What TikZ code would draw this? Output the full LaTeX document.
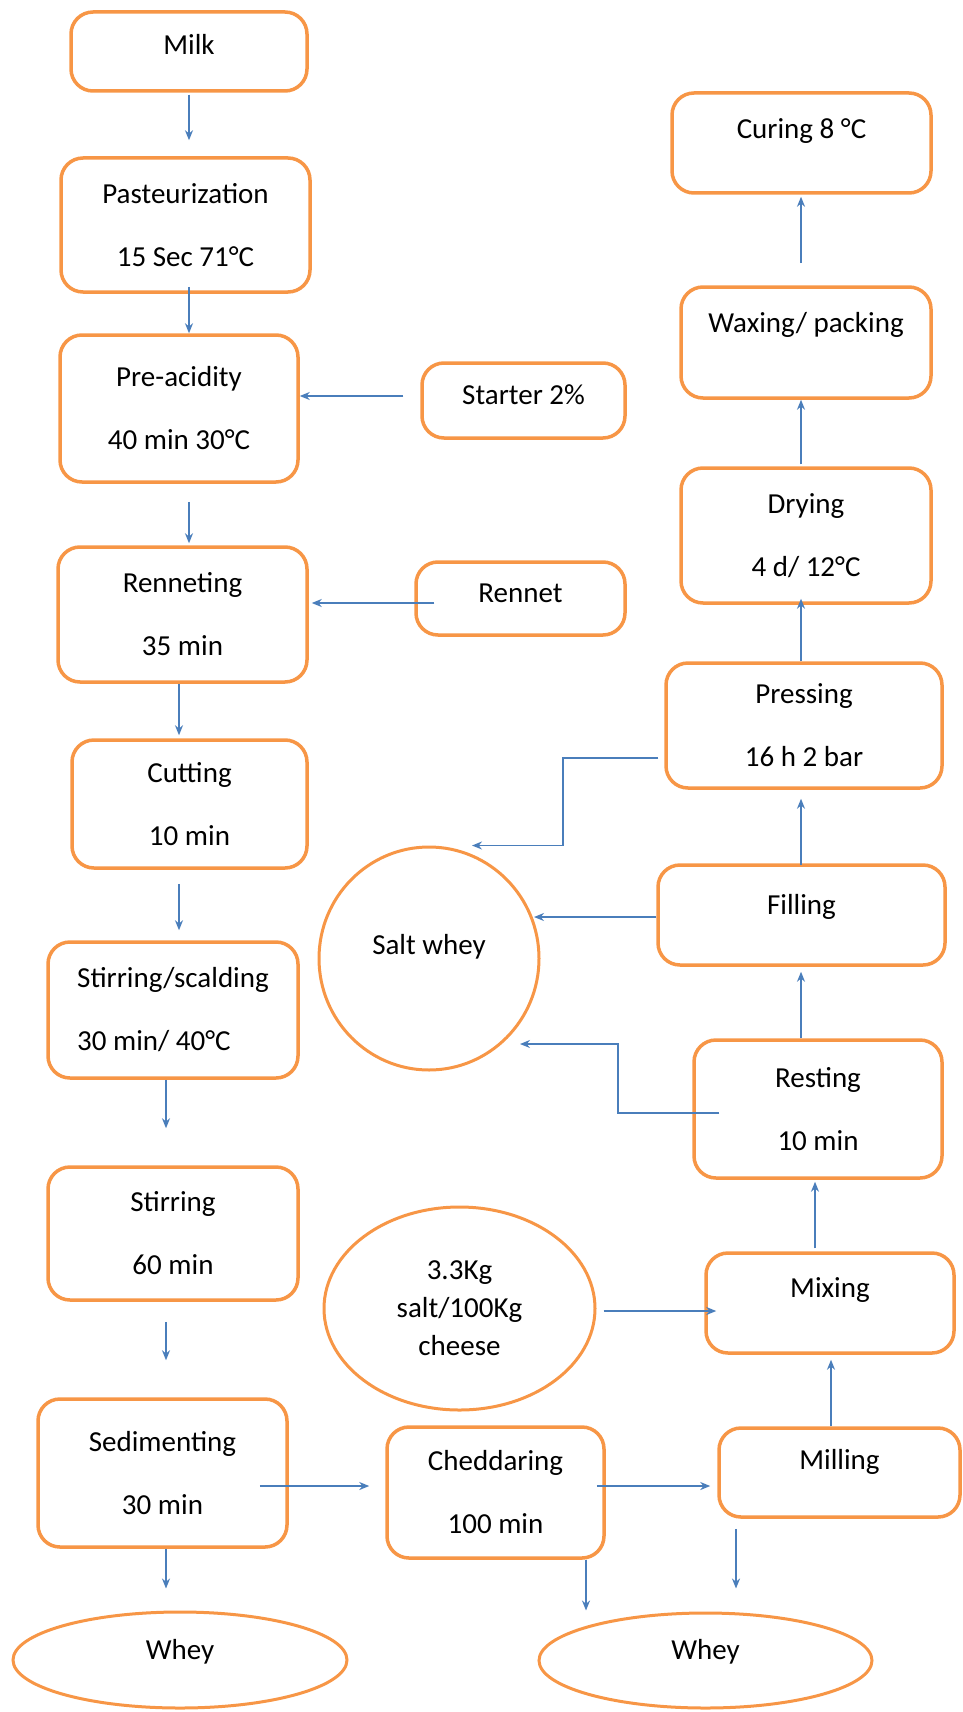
\documentclass[tikz,border=0pt]{standalone}
\usepackage{fontspec}
\setmainfont{Carlito}
\usetikzlibrary{shapes.geometric,arrows.meta,calc}
\definecolor{boxorange}{HTML}{F79646}
\definecolor{flowblue}{HTML}{4A7EBB}

\begin{document}
\begin{tikzpicture}[x=1pt,y=-1pt,
    every node/.style={font=\fontsize{29}{35}\selectfont},
    stage/.style={draw=boxorange,line width=3.5pt,rounded corners=22pt,fill=white,align=center,inner sep=0pt},
    pool/.style={draw=boxorange,line width=3pt,ellipse,fill=white,align=center,inner sep=0pt},
    lift/.style={text height=20pt,text depth=#1},
    flow/.style={draw=flowblue,line width=1.6pt,-{Stealth[length=10pt,width=8pt]}},
    wideflow/.style={flow,line width=2.6pt}]
\useasboundingbox (0,0) rectangle (962,1712);

\node[stage,minimum width=236pt,minimum height=79pt,lift=14pt] (milk) at (189,51.5) {Milk};
\node[stage,minimum width=249pt,minimum height=134pt] (past) at (185.5,225) {Pasteurization\\[28pt]15 Sec 71°C};
\node[stage,minimum width=238pt,minimum height=147pt] (pre) at (179,408.5) {Pre-acidity\\[28pt]40 min 30°C};
\node[stage,minimum width=203pt,minimum height=75pt,lift=12pt] (starter) at (523.5,400.5) {Starter 2\%};
\node[stage,minimum width=249pt,minimum height=135pt] (renn) at (182.5,614.5) {Renneting\\[28pt]35 min};
\node[stage,minimum width=209pt,minimum height=73pt,lift=12pt] (rennet) at (520.5,598.5) {Rennet};
\node[stage,minimum width=235pt,minimum height=128pt] (cut) at (189.5,804) {Cutting\\[28pt]10 min};
\node[stage,align=left,minimum width=250pt,minimum height=136pt] (scald) at (173,1010) {Stirring/scalding\\[28pt]30 min/ 40°C};
\node[stage,minimum width=250pt,minimum height=133pt] (stir) at (173,1233.5) {Stirring\\[28pt]60 min};
\node[stage,minimum width=249pt,minimum height=148pt] (sed) at (162.5,1473) {Sedimenting\\[28pt]30 min};
\node[stage,minimum width=217pt,minimum height=131pt] (ched) at (495.5,1492.5) {Cheddaring\\[28pt]100 min};
\node[stage,minimum width=241pt,minimum height=89pt,lift=26pt] (mill) at (839.5,1472.5) {Milling};
\node[stage,minimum width=248pt,minimum height=100pt,lift=32pt] (mix) at (830,1303) {Mixing};
\node[stage,minimum width=248pt,minimum height=138pt] (rest) at (818,1109) {Resting\\[28pt]10 min};
\node[stage,minimum width=287pt,minimum height=100pt,lift=22pt] (fill) at (801.5,915) {Filling};
\node[stage,minimum width=276pt,minimum height=125pt] (press) at (804,725.5) {Pressing\\[28pt]16 h 2 bar};
\node[stage,minimum width=250pt,minimum height=135pt] (dry) at (806,535.5) {Drying\\[28pt]4 d/ 12°C};
\node[stage,minimum width=250pt,minimum height=111pt,lift=40pt] (wax) at (806,342.5) {Waxing/ packing};
\node[stage,minimum width=259pt,minimum height=100pt,lift=28pt] (cure) at (801.5,143) {Curing 8 °C};
\node[pool,minimum width=220pt,minimum height=223pt,lift=28pt] (saltwhey) at (429,958.5) {Salt whey};
\node[pool,minimum width=271pt,minimum height=203pt,font=\fontsize{29}{38}\selectfont] (salt) at (459.5,1308.5) {3.3Kg\\salt/100Kg\\cheese};
\node[pool,minimum width=334pt,minimum height=96pt,lift=22pt] (whey1) at (180,1660) {Whey};
\node[pool,minimum width=333pt,minimum height=95pt,lift=22pt] (whey2) at (705.5,1660.5) {Whey};

\draw[flow,shorten <=2pt,shorten >=16pt] (milk.south) -- (milk.south |- past.north);
\draw[flow,shorten <=-7pt] ([xshift=3.5pt]past.south) -- ([xshift=3.5pt]past.south |- pre.north);
\draw[flow,shorten <=18pt,shorten >=2pt] ([xshift=10pt]pre.south) -- ([xshift=10pt]pre.south |- renn.north);
\draw[flow,shorten >=3pt] ([xshift=-3.5pt]renn.south) -- ([xshift=-3.5pt]renn.south |- cut.north);
\draw[flow,shorten <=14pt,shorten >=10pt] ([xshift=-10.5pt]cut.south) -- ([xshift=-10.5pt]cut.south |- scald.north);
\draw[flow,shorten >=37pt] ([xshift=-7pt]scald.south) -- ([xshift=-7pt]scald.south |- stir.north);
\draw[flow,shorten <=20pt,shorten >=37pt] ([xshift=-7pt]stir.south) -- ([xshift=-7pt]stir.south |- sed.north);
\draw[flow,shorten >=22pt] ([xshift=3.5pt]sed.south) -- ([xshift=3.5pt]sed.south |- whey1.north);
\draw[wideflow] ($(sed.east)+(-29,13)$) -- ($(ched.west)+(-16,-6.5)$);
\draw[wideflow] ($(ched.east)+(-9,-6.5)$) -- ($(mill.west)+(-7,13.5)$);
\draw[flow,shorten >=1pt] ($(ched.south)+(90.5,0)$) -- ($(whey2.north)+(-119.5,0)$);
\draw[flow,shorten <=10pt,shorten >=23pt] ($(mill.south)+(-103.5,0)$) -- ($(whey2.north)+(30.5,0)$);
\draw[flow,shorten >=5pt] ($(mill.north)+(-8.5,0)$) -- ($(mix.south)+(1,0)$);
\draw[wideflow] ($(salt.east)+(7,2.5)$) -- ($(mix.west)+(12,8)$);
\draw[flow,shorten <=3pt,shorten >=2pt] ($(mix.north)+(-15,0)$) -- ($(rest.south)+(-3,0)$);
\draw[flow,shorten >=5pt] ($(rest.north)+(-17,0)$) -- ($(fill.south)+(-0.5,0)$);
\draw[flow] ($(rest.west)+(27,4)$) -- ++(-101,0) |- ($(saltwhey.center)+(91,85.5)$);
\draw[wideflow] ($(fill.west)+(0,2)$) -- ($(saltwhey.center)+(105,-41.5)$);
\draw[flow] ($(press.west)+(-6,32.5)$) -| ($(saltwhey.north)+(134,0)$) -- ($(saltwhey.north)+(43,0)$);
\draw[flow,shorten <=-2pt] ($(fill.north)+(-0.5,0)$) -- ($(press.south)+(-3,9)$);
\draw[flow] ($(press.north)+(-3,0)$) -- ($(dry.south)+(-5,-6)$);
\draw[flow,shorten <=2pt] ($(dry.north)+(-5,0)$) -- ($(wax.south)+(-5,0)$);
\draw[flow,shorten <=22pt,shorten >=2pt] ($(wax.north)+(-5,0)$) -- ($(cure.south)+(-0.5,0)$);
\draw[wideflow] ($(starter.west)+(-17,-4.5)$) -- ($(pre.east)+(0,-12.5)$);
\draw[wideflow] ($(rennet.west)+(20,4.5)$) -- ($(renn.east)+(3,-11.5)$);
\end{tikzpicture}
\end{document}
